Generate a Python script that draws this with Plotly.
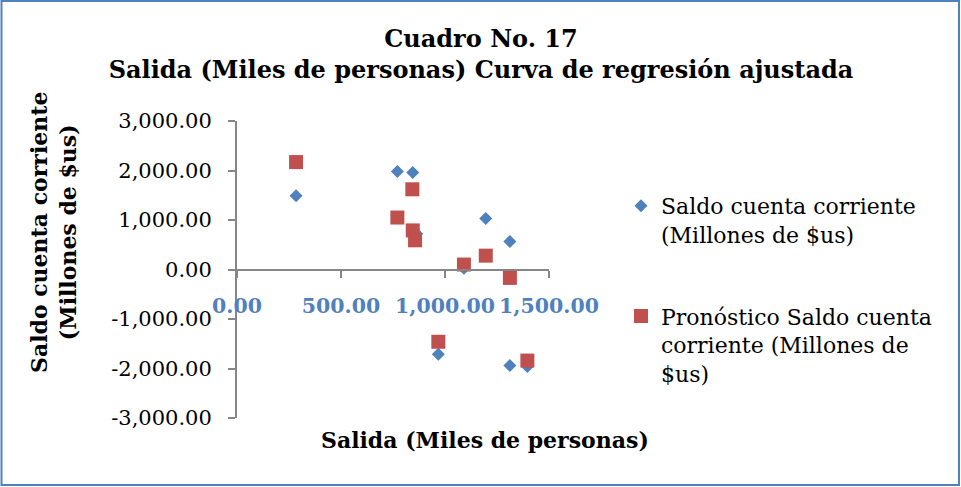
import plotly.graph_objects as go

# Data
saldo_x = [284, 771, 845, 864, 968, 1091, 1196, 1312, 1312, 1396]
saldo_y = [1490, 1980, 1960, 720, -1710, 25, 1030, 565, -1940, -1960]

pron_x = [284, 771, 843, 845, 856, 968, 1091, 1196, 1312, 1396]
pron_y = [2170, 1050, 1620, 790, 590, -1460, 100, 280, -170, -1840]

x_ticks = [0, 500, 1000, 1500]
x_tick_text = ["0.00", "500.00", "1,000.00", "1,500.00"]
y_ticks = [3000, 2000, 1000, 0, -1000, -2000, -3000]
y_tick_text = ["3,000.00", "2,000.00", "1,000.00", "0.00", "-1,000.00", "-2,000.00", "-3,000.00"]

title_text = "<b>Cuadro No. 17<br>Salida (Miles de personas) Curva de regresión ajustada</b>"
x_title = "<b>Salida (Miles de personas)</b>"
y_title = "<b>Saldo cuenta corriente<br>(Millones de $us)</b>"
name1 = "Saldo cuenta corriente<br>(Millones de $us)"
name2 = "Pronóstico Saldo cuenta<br>corriente (Millones de<br>$us)"

SERIF = "DejaVu Serif"
BLUE = "#4F81BD"
RED = "#C0504D"
GRAY = "#868686"

W, H = 961, 487
L, R, T, B = 237, 549, 121, 418  # plot-area pixel box

fig = go.Figure()
fig.add_trace(go.Scatter(x=saldo_x, y=saldo_y, mode="markers", name=name1,
                         legendgroup="a",
                         marker=dict(symbol="diamond", size=10, color=BLUE, line=dict(width=0))))
fig.add_trace(go.Scatter(x=pron_x, y=pron_y, mode="markers", name=name2,
                         legendgroup="b",
                         marker=dict(symbol="square", size=14, color=RED, line=dict(width=0))))

pw, ph = R - L, B - T
def px(xp):
    return (xp - L) / pw
def py(yp):
    return (B - yp) / ph

fig.update_layout(
    width=W, height=H,
    margin=dict(l=L, r=W - R, t=T, b=H - B, pad=0),
    paper_bgcolor="white", plot_bgcolor="white",
    showlegend=True,
    title=dict(text=title_text, x=481 / W, xanchor="center", y=1 - 47 / H, yanchor="top",
               font=dict(family=SERIF, size=24, color="black")),
    xaxis=dict(range=[0, 1500], tickvals=x_ticks, ticktext=x_tick_text,
               anchor="free", position=0.5, showline=True, linecolor=GRAY, linewidth=2,
               ticks="outside", ticklen=7, tickwidth=2, tickcolor=GRAY,
               showgrid=False, zeroline=False,
               tickfont=dict(family=SERIF, size=20.5, color=BLUE, weight="bold"),
               ticklabelstandoff=11),
    yaxis=dict(range=[-3000, 3000], tickvals=y_ticks, ticktext=y_tick_text,
               showline=True, linecolor=GRAY, linewidth=2,
               ticks="outside", ticklen=7, tickwidth=2, tickcolor=GRAY,
               showgrid=False, zeroline=False,
               tickfont=dict(family=SERIF, size=21, color="black"),
               ticklabelstandoff=12),
    legend=dict(x=px(621), y=py(185), xanchor="left", yanchor="top",
                font=dict(family=SERIF, size=22, color="black"),
                valign="top", tracegroupgap=50, bgcolor="rgba(0,0,0,0)"),
    annotations=[
        dict(text=x_title, xref="paper", yref="paper", x=px(485), y=py(440),
             xanchor="center", yanchor="middle", showarrow=False,
             font=dict(family=SERIF, size=22, color="black")),
        dict(text=y_title, xref="paper", yref="paper", x=px(53), y=py(233),
             xanchor="center", yanchor="middle", showarrow=False, textangle=-90,
             font=dict(family=SERIF, size=22, color="black")),
    ],
    shapes=[dict(type="rect", xref="paper", yref="paper",
                 x0=px(1.5), x1=px(959), y0=py(485), y1=py(1),
                 line=dict(color=BLUE, width=2), fillcolor="rgba(0,0,0,0)", layer="below")],
)

fig.write_html("out.html", config={"displayModeBar": False},
               post_script="document.body.style.margin='0';document.body.style.overflow='hidden';")
